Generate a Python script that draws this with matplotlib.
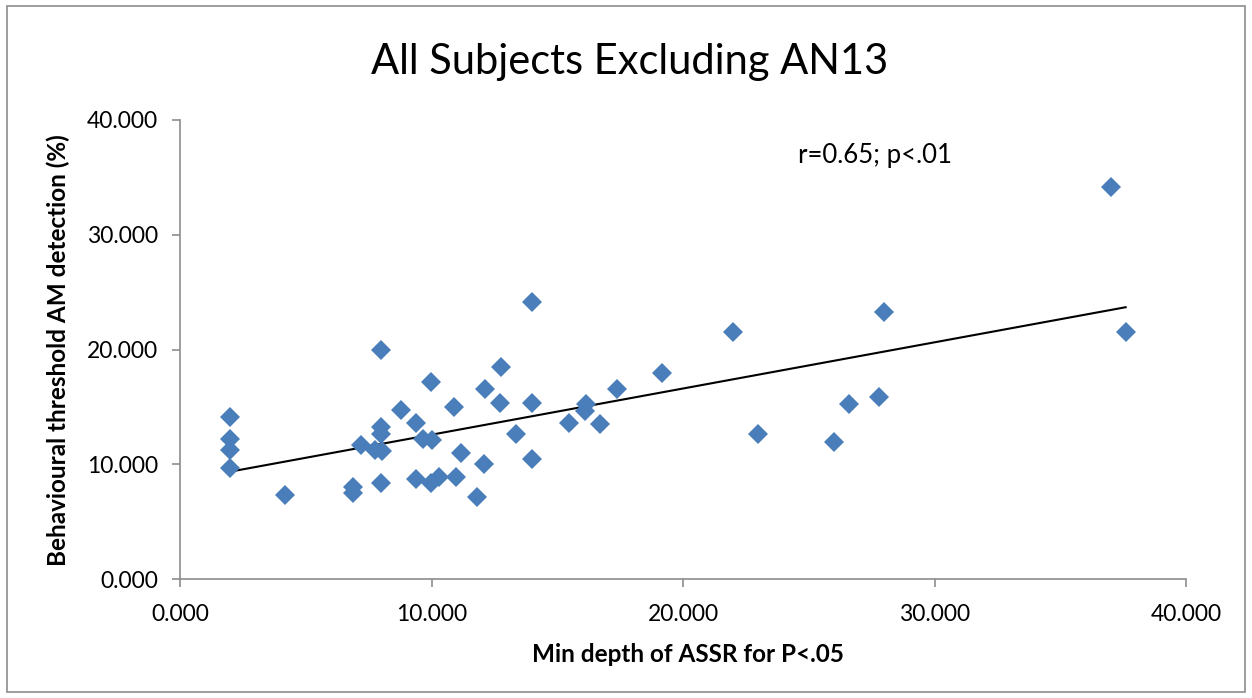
import matplotlib
matplotlib.use("Agg")
import matplotlib.pyplot as plt
from matplotlib.patches import Rectangle
from matplotlib.ticker import FormatStrFormatter
import numpy as np

plt.rcParams['font.family'] = ['Lato', 'DejaVu Sans']

# min depth of ASSR for P<.05
assr_depth = [1.99, 1.99, 1.99, 1.99, 4.17, 6.88, 6.88, 7.18, 7.75, 8.02,
              7.98, 7.98, 7.98, 7.98, 8.78, 9.37, 9.37, 9.66, 10.02, 9.98,
              9.98, 10.30, 10.89, 10.96, 11.17, 11.82, 12.09, 12.13, 12.78, 12.74,
              13.34, 13.98, 13.98, 13.98, 15.48, 16.13, 16.10, 16.70, 17.36, 19.18,
              21.99, 22.99, 26.00, 26.60, 27.81, 27.99, 37.01, 37.60]
# behavioural threshold AM detection (%)
am_threshold = [14.14, 12.20, 11.24, 9.67, 7.32, 8.02, 7.49, 11.68, 11.24, 11.18,
                13.27, 12.64, 19.96, 8.37, 14.73, 13.62, 8.69, 12.17, 12.11, 17.17,
                8.37, 8.92, 15.02, 8.92, 10.95, 7.12, 10.02, 16.53, 18.50, 15.31,
                12.64, 24.17, 15.36, 10.43, 13.62, 15.25, 14.67, 13.51, 16.53, 17.93,
                21.55, 12.61, 11.91, 15.28, 15.86, 23.27, 34.13, 21.55]

ticks = [0, 10, 20, 30, 40]

W, H = 1252, 698
fig = plt.figure(figsize=(W / 100, H / 100), dpi=100)
ax = fig.add_axes([180 / W, 1 - 579 / H, (1186 - 180) / W, (579 - 120) / H])

# chart border
fig.add_artist(Rectangle((7 / W, 6 / H), 1238 / W, 686 / H,
                         transform=fig.transFigure, fill=False,
                         edgecolor='#8c8c8c', linewidth=1.2))

ax.plot(assr_depth, am_threshold, linestyle='none', marker='D', markersize=10.5,
        color='#4a7ebb', markeredgewidth=0, zorder=3)

# linear trendline across the data range
slope, intercept = np.polyfit(assr_depth, am_threshold, 1)
xs = np.array([min(assr_depth), max(assr_depth)])
ax.plot(xs, slope * xs + intercept, color='black', linewidth=1.5, zorder=2)

ax.set_xlim(0, 40)
ax.set_ylim(0, 40)
ax.set_xticks(ticks)
ax.set_yticks(ticks)
ax.xaxis.set_major_formatter(FormatStrFormatter('%.3f'))
ax.yaxis.set_major_formatter(FormatStrFormatter('%.3f'))
for side in ['top', 'right']:
    ax.spines[side].set_visible(False)
for side in ['left', 'bottom']:
    ax.spines[side].set_color('#8c8c8c')
    ax.spines[side].set_linewidth(1.2)
ax.tick_params(axis='both', direction='out', length=6, width=1.2, color='#8c8c8c',
               labelsize=16.5)
ax.tick_params(axis='x', pad=12)
ax.tick_params(axis='y', pad=10)

ax.set_xlabel('Min depth of ASSR for P<.05', fontsize=17.5, fontweight='bold', va='baseline')
ax.xaxis.set_label_coords((688 - 180) / 1006, (579 - 662) / 459)
ax.set_ylabel('Behavioural threshold AM detection (%)', fontsize=17.5, fontweight='bold',
              va='center')
ax.yaxis.set_label_coords((58 - 180) / 1006, (579 - 350) / 459)

fig.text(630 / W, 1 - 74 / H, 'All Subjects Excluding AN13', fontsize=30,
         ha='center', va='baseline')
ax.text((798 - 180) / 1006, (579 - 163) / 459, 'r=0.65; p<.01', fontsize=18.5,
        ha='left', va='baseline', transform=ax.transAxes)

fig.savefig('out.png', dpi=100)
